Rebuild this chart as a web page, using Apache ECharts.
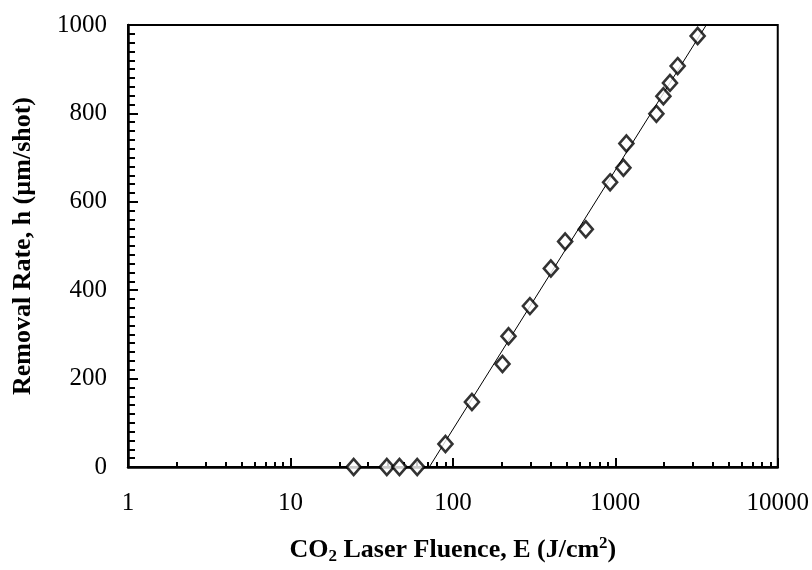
<!DOCTYPE html>
<html>
<head>
<meta charset="utf-8">
<script src="https://cdn.jsdelivr.net/npm/echarts@6/dist/echarts.min.js"></script>
<style>html,body{margin:0;padding:0;background:#fff}#c{width:812px;height:570px}</style>
</head>
<body>
<div id="c"></div>
<script>
var fluence = [24.5, 39.2, 46.9, 60.3, 90, 131, 202, 220, 298, 401, 491, 658, 929, 1122, 1170, 1790, 1977, 2170, 2420, 3213];
var rate = [0, 0, 0, 0, 52, 147, 233, 296, 364, 449, 510, 538, 644, 677, 732, 799, 839, 869, 907, 975];
var fitE = [71.6, 3630];
var fitH = [0, 1000];
var xMajorTicks = [1, 10, 100, 1000, 10000];
var xMinorTicks = [];
[1, 10, 100, 1000].forEach(function (d) { for (var k = 2; k <= 9; k++) xMinorTicks.push(d * k); });
var yMajorTicks = [0, 200, 400, 600, 800, 1000];
var yMinorTicks = [];
for (var v = 20; v < 1000; v += 20) { if (v % 200 !== 0) yMinorTicks.push(v); }

var font = 'Liberation Serif';
var chart = echarts.init(document.getElementById('c'), null, {renderer: 'canvas'});
chart.setOption({
  animation: false,
  backgroundColor: '#fff',
  grid: {left: 128, right: 33, top: 25, bottom: 103, show: true, borderColor: '#000', borderWidth: 2, backgroundColor: 'transparent'},
  xAxis: [{
    type: 'log', logBase: 10, min: 1, max: 10000, position: 'bottom',
    axisLine: {show: true, onZero: false, lineStyle: {color: '#000', width: 2.5}},
    axisTick: {show: true, inside: true, length: 9, lineStyle: {color: '#000', width: 2}, customValues: xMajorTicks},
    axisLabel: {color: '#000', fontFamily: font, fontSize: 25, margin: 24, customValues: xMajorTicks,
      formatter: function (v) { return String(Math.round(v)); }},
    splitLine: {show: false},
    name: '{b|CO}{sub|2}{b| Laser Fluence, E (J/cm}{sup|2}{b|)}',
    nameLocation: 'middle', nameGap: 68,
    nameTextStyle: {
      rich: {
        b: {fontFamily: font, fontWeight: 'bold', fontSize: 26, lineHeight: 30, color: '#000'},
        sub: {fontFamily: font, fontWeight: 'bold', fontSize: 17, lineHeight: 16, verticalAlign: 'bottom', color: '#000'},
        sup: {fontFamily: font, fontWeight: 'bold', fontSize: 17, lineHeight: 16, verticalAlign: 'top', color: '#000'}
      }
    }
  }, {
    type: 'log', logBase: 10, min: 1, max: 10000, position: 'bottom', offset: 0,
    axisLine: {show: false},
    axisTick: {show: true, inside: true, length: 5, lineStyle: {color: '#000', width: 2}, customValues: xMinorTicks},
    axisLabel: {show: false},
    splitLine: {show: false}
  }],
  yAxis: [{
    type: 'value', min: 0, max: 1000, interval: 200, position: 'left',
    axisLine: {show: true, onZero: false, lineStyle: {color: '#000', width: 2.5}},
    axisTick: {show: true, inside: true, length: 10, lineStyle: {color: '#000', width: 2}, customValues: yMajorTicks},
    axisLabel: {color: '#000', fontFamily: font, fontSize: 25, margin: 21, customValues: yMajorTicks,
      formatter: function (v) { return String(Math.round(v)); }},
    splitLine: {show: false},
    name: 'Removal Rate, h (\u00b5m/shot)',
    nameLocation: 'middle', nameGap: 92, nameRotate: 90,
    nameTextStyle: {fontFamily: font, fontWeight: 'bold', fontSize: 26, color: '#000'}
  }, {
    type: 'value', min: 0, max: 1000, interval: 200, position: 'left', offset: 0,
    axisLine: {show: false, onZero: false},
    axisTick: {show: true, inside: true, length: 7, lineStyle: {color: '#000', width: 2}, customValues: yMinorTicks},
    axisLabel: {show: false},
    splitLine: {show: false}
  }],
  series: [{
    type: 'line', xAxisIndex: 0, yAxisIndex: 0,
    data: fitE.map(function (e, i) { return [e, fitH[i]]; }),
    symbol: 'none', lineStyle: {color: '#000', width: 1}, z: 2
  }, {
    type: 'scatter', xAxisIndex: 0, yAxisIndex: 0,
    data: fluence.map(function (e, i) { return [e, rate[i]]; }),
    symbol: 'diamond', symbolSize: [14, 16],
    itemStyle: {color: '#fff', borderColor: '#000', borderWidth: 2.6}, z: 3
  }]
});
</script>
</body>
</html>
